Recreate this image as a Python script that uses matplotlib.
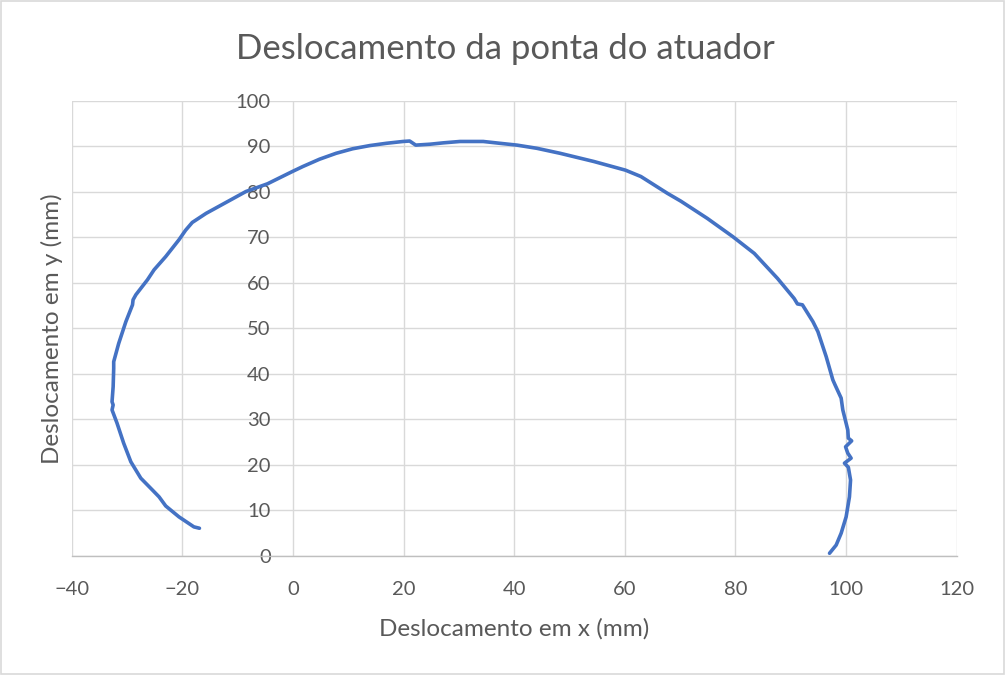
import matplotlib
matplotlib.use("Agg")
import matplotlib.pyplot as plt
from matplotlib.patches import Rectangle

# Tip trajectory of the actuator (mm)
x_mm = [-16.9, -17.9, -20.6, -23.0, -24.2, -25.4, -27.5, -29.3, -30.6, -31.8,
        -32.7, -32.5, -32.7, -32.5, -32.4, -32.4, -31.5, -30.2, -29.0, -28.9,
        -28.4, -26.3, -25.1, -23.0, -20.6, -19.4, -18.2, -15.7, -12.1, -8.5,
        -4.6, -0.1, 1.8, 4.8, 7.8, 10.8, 13.9, 16.9, 19.9, 21.1,
        22.2, 24.8, 27.2, 30.2, 34.4, 37.4, 40.5, 44.1, 48.3, 54.4,
        60.1, 62.9, 67.7, 70.1, 74.9, 79.5, 83.4, 87.6, 90.6,
        91.2, 92.1, 94.0, 94.9, 96.4, 97.6, 98.0, 99.1, 99.4, 100.3,
        100.4, 101.0, 99.9, 100.3, 100.9, 99.7, 100.4, 100.8, 100.6, 100.0,
        99.1, 98.2, 97.0]
y_mm = [6.1, 6.4, 8.6, 11.0, 13.0, 14.5, 17.1, 20.7, 24.8, 29.2,
        32.1, 33.2, 33.9, 37.2, 41.2, 42.7, 46.7, 51.5, 55.2, 56.3,
        57.4, 60.7, 62.9, 65.8, 69.5, 71.6, 73.3, 75.3, 77.7, 80.1,
        81.8, 84.5, 85.6, 87.2, 88.5, 89.5, 90.2, 90.7, 91.1, 91.2,
        90.3, 90.5, 90.8, 91.1, 91.1, 90.7, 90.3, 89.6, 88.5, 86.7,
        84.8, 83.4, 79.7, 78.0, 74.2, 70.2, 66.5, 61.0, 56.6,
        55.4, 55.2, 51.5, 49.3, 43.8, 38.7, 37.6, 34.7, 32.1, 27.7,
        25.9, 25.3, 24.0, 22.6, 21.5, 20.4, 19.5, 16.7, 13.0, 8.6,
        5.0, 2.4, 0.6]

x_ticks = [-40, -20, 0, 20, 40, 60, 80, 100, 120]
y_ticks = [0, 10, 20, 30, 40, 50, 60, 70, 80, 90, 100]

title = "Deslocamento da ponta do atuador"
x_label = "Deslocamento em x (mm)"
y_label = "Deslocamento em y (mm)"

text_color = "#595959"
grid_color = "#D9D9D9"
line_color = "#4472C4"

plt.rcParams["font.family"] = ["Lato", "DejaVu Sans"]

fig = plt.figure(figsize=(10.05, 6.75), dpi=100)
fig.patches.append(Rectangle((0.001, 0.001), 0.998, 0.997, transform=fig.transFigure,
                             fill=False, edgecolor=grid_color, linewidth=1.2))

ax = fig.add_axes([0.0713, 0.1763, 0.8807, 0.6741])
ax.set_xlim(-40, 120)
ax.set_ylim(0, 100)
ax.set_xticks(x_ticks)
ax.set_yticks(y_ticks)
ax.grid(True, color=grid_color, linewidth=1.0)
ax.set_axisbelow(True)

for side in ("top", "right"):
    ax.spines[side].set_visible(False)
ax.spines["bottom"].set_color("#BFBFBF")
ax.spines["bottom"].set_linewidth(1.0)
ax.spines["left"].set_position(("data", 0))
ax.spines["left"].set_visible(False)

ax.tick_params(axis="both", length=0, labelsize=14.5, colors=text_color)
ax.tick_params(axis="y", pad=16)
ax.tick_params(axis="x", pad=18)

ax.plot(x_mm, y_mm, color=line_color, linewidth=2.6,
        solid_joinstyle="round", solid_capstyle="round", zorder=3)

fig.text(0.5025, 0.928, title, ha="center", va="center", fontsize=25,
         color=text_color)
fig.text(0.5114, 0.069, x_label, ha="center", va="center", fontsize=17.5,
         color=text_color)
fig.text(0.052, 0.513, y_label, ha="center", va="center", rotation=90,
         fontsize=17.5, color=text_color)

fig.savefig("out.png", dpi=100)
